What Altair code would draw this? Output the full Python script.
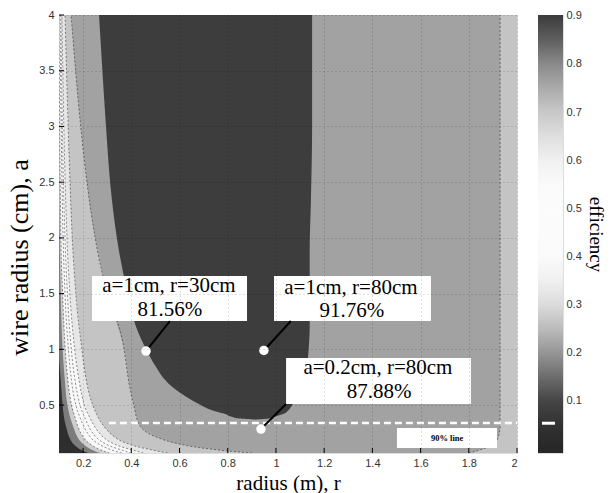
import altair as alt
import pandas as pd

# ---------------- axes -----------------
r_ticks = [0.2, 0.4, 0.6, 0.8, 1.0, 1.2, 1.4, 1.6, 1.8, 2.0]
a_ticks = [0.5, 1.0, 1.5, 2.0, 2.5, 3.0, 3.5, 4.0]
cbar_ticks = [0.1, 0.2, 0.3, 0.4, 0.5, 0.6, 0.7, 0.8, 0.9]

# ---------------- contour bands (boundaries) -----------
a_grid = [0.07, 0.1, 0.15, 0.2, 0.3, 0.4, 0.5, 0.7, 1.0, 1.5, 2.0, 3.0, 4.0]
edge_left = [0.1, 0.1, 0.1, 0.1, 0.1, 0.1, 0.1, 0.1, 0.1, 0.1, 0.1, 0.1, 0.1]
edge_right = [2.0, 2.0, 2.0, 2.0, 2.0, 2.0, 2.0, 2.0, 2.0, 2.0, 2.0, 2.0, 2.0]
lvl_01 = [0.22, 0.19, 0.16, 0.145, 0.13, 0.12, 0.115, 0.108, 0.1, 0.1, 0.1, 0.1, 0.1]
lvl_02 = [0.27, 0.235, 0.2, 0.18, 0.16, 0.145, 0.135, 0.125, 0.115, 0.107, 0.103, 0.1, 0.1]
lvl_03 = [0.31, 0.27, 0.23, 0.205, 0.18, 0.165, 0.152, 0.138, 0.126, 0.115, 0.108, 0.103, 0.1]
lvl_04 = [0.36, 0.315, 0.265, 0.235, 0.205, 0.185, 0.17, 0.153, 0.139, 0.125, 0.117, 0.109, 0.104]
lvl_05 = [0.40, 0.355, 0.295, 0.26, 0.225, 0.205, 0.187, 0.168, 0.151, 0.135, 0.125, 0.114, 0.108]
lvl_06 = [0.45, 0.4, 0.33, 0.29, 0.25, 0.225, 0.205, 0.185, 0.165, 0.145, 0.133, 0.12, 0.112]
lvl_07 = [0.55, 0.48, 0.39, 0.34, 0.29, 0.26, 0.24, 0.215, 0.195, 0.17, 0.155, 0.138, 0.125]
lvl_08_left = [0.9, 0.75, 0.6, 0.52, 0.44, 0.42, 0.41, 0.39, 0.37, 0.3, 0.25, 0.19, 0.15]
lvl_08_right = [1.8, 1.85, 1.9, 1.92, 1.93, 1.93, 1.93, 1.93, 1.93, 1.93, 1.93, 1.93, 1.93]

a_top = [0.37, 0.38, 0.4, 0.42, 0.45, 0.51, 0.6, 0.69, 0.85, 0.985, 1.2, 1.5, 1.88, 2.33, 3.0, 3.5, 4.0]
lvl_09_left = [0.92, 0.85, 0.81, 0.79, 0.74, 0.68, 0.61, 0.556, 0.5, 0.465, 0.42, 0.385, 0.349, 0.32, 0.295, 0.28, 0.266]
lvl_09_right = [0.92, 0.97, 1.0, 1.03, 1.05, 1.07, 1.1, 1.12, 1.13, 1.135, 1.14, 1.14, 1.14, 1.145, 1.15, 1.15, 1.15]

band_names = ["<0.1", "0.1", "0.2", "0.3", "0.6", "0.7", "0.8", "0.9"]
band_grays = ["#2e2e2e", "#7c7c7c", "#cdcdcd", "#f8f8f8", "#e6e6e6", "#c4c4c4", "#a2a2a2", "#3d3d3d"]

# colour bar (jet printed in grey)
cmap_vals = [0.0, 0.05, 0.1, 0.15, 0.2, 0.25, 0.3, 0.35, 0.4, 0.5, 0.55, 0.6, 0.65, 0.7, 0.75, 0.8, 0.85, 0.9]
cmap_grays = ["#282828", "#323232", "#464646", "#6e6e6e", "#969696", "#bcbcbc", "#dcdcdc", "#f0f0f0",
              "#fafafa", "#fcfcfc", "#fafafa", "#f0f0f0", "#dedede", "#c8c8c8", "#aaaaaa", "#8a8a8a",
              "#5f5f5f", "#3c3c3c"]
cbar_lo, cbar_hi = -0.01, 0.902

# ---------------- annotations -----------------
box_r1 = [0.237, 0.992, 1.042]
box_r2 = [0.880, 1.643, 1.809]
box_a1 = [1.254, 1.254, 0.510]
box_a2 = [1.658, 1.658, 0.922]
line1_txt = ["a=1cm, r=30cm", "a=1cm, r=80cm", "a=0.2cm, r=80cm"]
line1_r = [0.556, 1.311, 1.423]
line1_a = [1.568, 1.550, 0.833]
line2_txt = ["81.56%", "91.76%", "87.88%"]
line2_r = [0.560, 1.315, 1.428]
line2_a = [1.353, 1.344, 0.617]
dot_r = [0.461, 0.950, 0.938]
dot_a = [0.985, 0.990, 0.285]
lead_r = [0.560, 1.062, 1.042]
lead_a = [1.254, 1.254, 0.510]

line90_a = 0.339
line90_r = [0.307, 2.0]
box90_r = [1.502, 1.917]
box90_a = [0.115, 0.294]
txt90 = "90% line"
txt90_pos = [1.71, 0.205]

W, H = 458, 438
SERIF = "Liberation Serif"
SANS = "Liberation Sans"

xscale = alt.Scale(domain=[0.1, 2.0], nice=False, zero=False)
yscale = alt.Scale(domain=[0.07, 4.0], nice=False, zero=False)
xaxis = alt.Axis(values=r_ticks, format="~g", title="radius (m), r", titleFont=SERIF,
                 titleFontSize=21, titleFontWeight="normal", titleColor="black", titlePadding=4,
                 labelFont=SANS, labelFontSize=11, labelColor="#333", tickSize=0, labelPadding=4,
                 domain=False, grid=True, gridColor="black", gridOpacity=0.25, gridDash=[1, 3],
                 zindex=1)
yaxis = alt.Axis(values=a_ticks, format="~g", title="wire radius (cm), a", titleFont=SERIF,
                 titleFontSize=26, titleFontWeight="normal", titleColor="black", titlePadding=6,
                 titleY=242, labelFont=SANS, labelFontSize=11, labelColor="#333", tickSize=0,
                 labelPadding=5, domain=False, grid=True, gridColor="black", gridOpacity=0.25,
                 gridDash=[1, 3], zindex=1)


def X(f):
    return alt.X(f, type="quantitative", scale=xscale, axis=xaxis)


def Y(f):
    return alt.Y(f, type="quantitative", scale=yscale, axis=yaxis)


band_color = alt.Scale(domain=band_names, range=band_grays)

band_specs = [
    ("<0.1", a_grid, edge_left, edge_right),
    ("0.1", a_grid, lvl_01, edge_right),
    ("0.2", a_grid, lvl_02, edge_right),
    ("0.3", a_grid, lvl_03, edge_right),
    ("0.6", a_grid, lvl_06, edge_right),
    ("0.7", a_grid, lvl_07, edge_right),
    ("0.8", a_grid, lvl_08_left, lvl_08_right),
    ("0.9", a_top, lvl_09_left, lvl_09_right),
]

layers = []
for name, aa, rl, rr in band_specs:
    df = pd.DataFrame({"a": aa, "rL": rl, "rR": rr, "band": [name] * len(aa)})
    layers.append(
        alt.Chart(df).mark_area(orient="horizontal", clip=True, interpolate="monotone").encode(
            y=Y("a"), x=X("rL"), x2="rR",
            color=alt.Color("band:N", scale=band_color, legend=None),
        )
    )

# contour lines
for curve in [lvl_03, lvl_04, lvl_05, lvl_06, lvl_07, lvl_08_left, lvl_08_right]:
    df = pd.DataFrame({"a": a_grid, "r": curve})
    layers.append(
        alt.Chart(df).mark_line(clip=True, color="black", strokeWidth=0.8, opacity=0.55,
                                strokeDash=[2, 2], interpolate="monotone").encode(
            x=X("r"), y=Y("a"), order=alt.Order("a:Q"))
    )

# 90% dashed line
df90 = pd.DataFrame({"r": [line90_r[0]], "r2": [line90_r[1]], "a": [line90_a]})
layers.append(alt.Chart(df90).mark_rule(color="white", strokeWidth=2.5, strokeDash=[7, 4]).encode(
    x=X("r"), x2="r2", y=Y("a")))

# boxes
dfb = pd.DataFrame({"r1": box_r1 + [box90_r[0]], "r2": box_r2 + [box90_r[1]],
                    "a1": box_a1 + [box90_a[0]], "a2": box_a2 + [box90_a[1]]})
layers.append(alt.Chart(dfb).mark_rect(color="white").encode(x=X("r1"), x2="r2", y=Y("a1"), y2="a2"))

# leader lines
dfl = pd.DataFrame({"r": dot_r, "r2": lead_r, "a": dot_a, "a2": lead_a})
layers.append(alt.Chart(dfl).mark_rule(color="black", strokeWidth=2).encode(
    x=X("r"), x2="r2", y=Y("a"), y2="a2"))

# dots
dfd = pd.DataFrame({"r": dot_r, "a": dot_a})
layers.append(alt.Chart(dfd).mark_point(filled=True, color="white", opacity=1, size=90, shape="circle").encode(
    x=X("r"), y=Y("a")))

# texts
dft1 = pd.DataFrame({"r": line1_r, "a": line1_a, "t": line1_txt})
layers.append(alt.Chart(dft1).mark_text(font=SERIF, fontSize=21, color="black").encode(
    x=X("r"), y=Y("a"), text="t:N"))
dft2 = pd.DataFrame({"r": line2_r, "a": line2_a, "t": line2_txt})
layers.append(alt.Chart(dft2).mark_text(font=SERIF, fontSize=21, color="black").encode(
    x=X("r"), y=Y("a"), text="t:N"))
dft3 = pd.DataFrame({"r": [txt90_pos[0]], "a": [txt90_pos[1]], "t": [txt90]})
layers.append(alt.Chart(dft3).mark_text(font=SERIF, fontSize=8.5, fontWeight="bold", color="black").encode(
    x=X("r"), y=Y("a"), text="t:N"))

# inward ticks
dftx = pd.DataFrame({"r": r_ticks})
layers.append(alt.Chart(dftx).mark_rule(color="black", strokeWidth=1).encode(
    x=X("r"), y=alt.value(H), y2=alt.value(H - 5)))
dfty = pd.DataFrame({"a": a_ticks})
layers.append(alt.Chart(dfty).mark_rule(color="black", strokeWidth=1).encode(
    y=Y("a"), x=alt.value(0), x2=alt.value(5)))

main = alt.layer(*layers).properties(width=W, height=H)

# ---------------- colour bar -----------------
span = cbar_hi - cbar_lo
stops = [alt.GradientStop(color=c, offset=(v - cbar_lo) / span) for v, c in zip(cmap_vals, cmap_grays)]
grad = alt.Gradient(gradient="linear", stops=stops, x1=0, x2=0, y1=1, y2=0)
cbdf = pd.DataFrame({"lo": [cbar_lo], "hi": [cbar_hi]})
cscale = alt.Scale(domain=[cbar_lo, cbar_hi], nice=False, zero=False)
caxis = alt.Axis(orient="right", values=cbar_ticks, format=".1f", title="efficiency", titleFont=SERIF,
                 titleFontSize=19, titleFontWeight="normal", titleColor="black", titleAngle=90,
                 titlePadding=4, labelFont=SANS, labelFontSize=11, labelColor="#333", tickSize=0,
                 labelPadding=3, domain=False, grid=False)
cb_rect = alt.Chart(cbdf).mark_rect(fill=grad).encode(
    y=alt.Y("lo:Q", scale=cscale, axis=caxis), y2="hi:Q", x=alt.value(0), x2=alt.value(25))
cb_mark = alt.Chart(pd.DataFrame({"v": [0.052]})).mark_rule(color="white", strokeWidth=3).encode(
    y=alt.Y("v:Q", scale=cscale, axis=caxis), x=alt.value(4), x2=alt.value(17))
cbar = alt.layer(cb_rect, cb_mark).properties(width=25, height=H)

chart = alt.hconcat(main, cbar, spacing=18).properties(
    padding={"left": 6, "top": 8, "right": 8, "bottom": 0}
).configure_view(stroke="black", strokeWidth=1).configure(background="white")

chart.save("out.html", embed_options={"renderer": "svg", "actions": False})
